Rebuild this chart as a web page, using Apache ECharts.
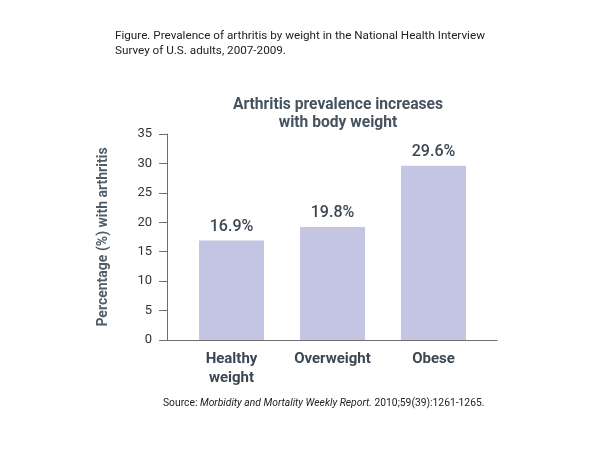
<!DOCTYPE html>
<html><head><meta charset="utf-8">
<script src="https://cdn.jsdelivr.net/npm/echarts@6/dist/echarts.min.js"></script>
<style>html,body{margin:0;padding:0;background:#fff}#c{width:590px;height:465px}</style>
</head><body><div id="c"></div>
<script>
const categories = ['Healthy\nweight', 'Overweight', 'Obese'];
const barValues = [16.9, 19.2, 29.6];
const valueLabels = ['16.9%', '19.8%', '29.6%'];
const yTicks = [0, 5, 10, 15, 20, 25, 30, 35];
const captionText = 'Figure. Prevalence of arthritis by weight in the National Health Interview\nSurvey of U.S. adults, 2007-2009.';
const titleText = 'Arthritis prevalence increases\nwith body weight';
const yName = 'Percentage (%) with arthritis';

const FONT = 'Roboto';
const DARK = '#3b4752';
const chart = echarts.init(document.getElementById('c'));
chart.setOption({
  animation: false,
  backgroundColor: '#fff',
  title: {
    text: titleText, left: 333, top: 91, textAlign: 'center',
    textStyle: { fontFamily: FONT, fontSize: 15.6, fontWeight: 'bold', color: '#46535e', lineHeight: 18 }
  },
  graphic: [
    { type: 'text', left: 115, top: 29,
      style: { text: captionText, fontFamily: FONT, fontSize: 11.7, lineHeight: 14.5, fill: '#222' } },
    { type: 'text', left: 163, top: 398,
      style: { text: '{n|Source: }{i|Morbidity and Mortality Weekly Report.}{n| 2010;59(39):1261-1265.}',
        rich: { n: { fontFamily: FONT, fontSize: 10.3, fill: '#222' },
                i: { fontFamily: FONT, fontSize: 10.3, fontStyle: 'italic', fill: '#222' } } } }
  ],
  grid: [
    { left: 167, right: 93, top: 134, bottom: 125 },
    { left: 181, right: 106, top: 134, bottom: 125 }
  ],
  xAxis: [
    { type: 'value', gridIndex: 0, min: 0, max: 1,
      axisLine: { show: true, lineStyle: { color: '#6e6e6e', width: 1 } },
      axisTick: { show: false }, axisLabel: { show: false }, splitLine: { show: false } },
    { type: 'category', gridIndex: 1, data: categories,
      axisLine: { show: false }, axisTick: { show: false },
      axisLabel: { margin: 10, fontFamily: FONT, fontSize: 15, fontWeight: 'bold', color: DARK, lineHeight: 19 } }
  ],
  yAxis: [
    { type: 'value', gridIndex: 0, min: yTicks[0], max: yTicks[yTicks.length - 1], interval: yTicks[1] - yTicks[0],
      name: yName, nameLocation: 'middle', nameRotate: 90, nameGap: 57,
      nameTextStyle: { fontFamily: FONT, fontSize: 14, fontWeight: 'bold', color: '#4f5d69' },
      axisLine: { show: true, lineStyle: { color: '#6e6e6e', width: 1 } },
      axisTick: { show: true, length: 8, lineStyle: { color: '#6e6e6e' } },
      axisLabel: { margin: 15, fontFamily: FONT, fontSize: 13, color: '#333' },
      splitLine: { show: false } },
    { type: 'value', gridIndex: 1, min: yTicks[0], max: yTicks[yTicks.length - 1], show: false }
  ],
  series: [{
    type: 'bar', xAxisIndex: 1, yAxisIndex: 1, data: barValues, barWidth: 65,
    itemStyle: { color: '#c4c5e2' },
    label: { show: true, position: 'top', distance: 6,
      formatter: p => valueLabels[p.dataIndex],
      fontFamily: FONT, fontSize: 16, fontWeight: 500, color: DARK }
  }]
});
</script></body></html>
